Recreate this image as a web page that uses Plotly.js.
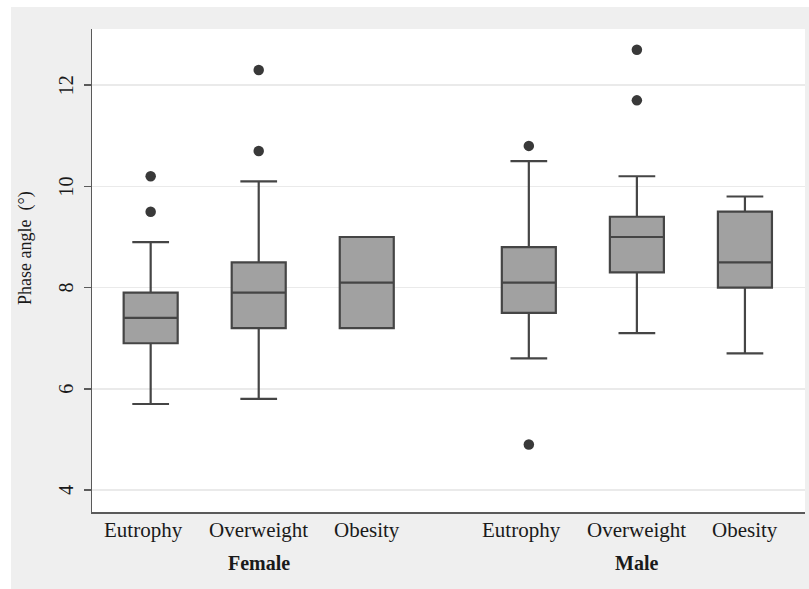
<!DOCTYPE html>
<html>
<head>
<meta charset="utf-8">
<script src="https://cdn.plot.ly/plotly-3.0.1.min.js"></script>
<style>
  html, body { margin:0; padding:0; background:#ffffff; }
  #bg { position:absolute; left:11px; top:7px; width:798px; height:582px; background:#efefef; }
  #chart { position:absolute; left:0; top:0; width:809px; height:589px; }
</style>
</head>
<body>
<div id="bg"></div>
<div id="chart"></div>
<script>
// ---- data ----
const groups = ["Female", "Male"];
const categories = ["Eutrophy", "Overweight", "Obesity"];
const groupOf = [0, 0, 0, 1, 1, 1];
const categoryOf = [0, 1, 2, 0, 1, 2];

const q1 = [6.9, 7.2, 7.2, 7.5, 8.3, 8.0];
const median = [7.4, 7.9, 8.1, 8.1, 9.0, 8.5];
const q3 = [7.9, 8.5, 9.0, 8.8, 9.4, 9.5];
const lowerWhisker = [5.7, 5.8, 7.2, 6.6, 7.1, 6.7];
const upperWhisker = [8.9, 10.1, 9.0, 10.5, 10.2, 9.8];

const outlierBox = [0, 0, 1, 1, 3, 3, 4, 4];
const outlierValue = [10.2, 9.5, 12.3, 10.7, 10.8, 4.9, 12.7, 11.7];

const yTicks = [4, 6, 8, 10, 12];

// ---- positions (group gap of half a slot) ----
const pos = groupOf.map((g, i) => i + 1 + g * 0.5);
const groupCenter = groups.map((g, gi) => {
  const p = pos.filter((_, i) => groupOf[i] === gi);
  return (p[0] + p[p.length - 1]) / 2;
});

const lineCol = "#454545";
const boxTrace = {
  type: "box",
  x: pos,
  q1: q1, median: median, q3: q3,
  lowerfence: lowerWhisker, upperfence: upperWhisker,
  boxpoints: false,
  width: 0.5,
  whiskerwidth: 0.68,
  fillcolor: "#a1a1a1",
  line: { color: lineCol, width: 2.2 },
  hoverinfo: "skip",
  showlegend: false
};
const outTrace = {
  type: "scatter", mode: "markers",
  x: outlierBox.map(i => pos[i]),
  y: outlierValue,
  marker: { color: "#393939", size: 10.5 },
  hoverinfo: "skip",
  showlegend: false
};

const fontFam = "Liberation Serif";
const annotations = [];
pos.forEach((p, i) => {
  annotations.push({
    xref: "x", yref: "paper", x: p, y: 0,
    xanchor: "center", yanchor: "middle",
    xshift: categoryOf[i] === 0 ? -7 : 0,
    yshift: -17.5,
    text: categories[categoryOf[i]], showarrow: false,
    font: { family: fontFam, size: 21, color: "#1a1a1a" }
  });
});
groups.forEach((g, gi) => {
  annotations.push({
    xref: "x", yref: "paper", x: groupCenter[gi], y: 0,
    xanchor: "center", yanchor: "middle",
    yshift: -50.5,
    text: "<b>" + g + "</b>", showarrow: false,
    font: { family: fontFam, size: 20, color: "#1a1a1a" }
  });
});
yTicks.forEach(v => {
  annotations.push({
    xref: "paper", yref: "y", x: 0, y: v,
    xanchor: "center", yanchor: "middle",
    xshift: -26, textangle: -90,
    text: String(v), showarrow: false,
    font: { family: fontFam, size: 20, color: "#1a1a1a" }
  });
});
annotations.push({
  xref: "paper", yref: "paper", x: 0, y: 0.5,
  xanchor: "center", yanchor: "middle",
  xshift: -67, yshift: 22.5, textangle: -90,
  text: "Phase angle\u00a0\u00a0(°)", showarrow: false,
  font: { family: fontFam, size: 18, color: "#1a1a1a" }
});

const layout = {
  width: 809, height: 589,
  margin: { l: 92, r: 3.5, t: 29, b: 77 },
  paper_bgcolor: "rgba(0,0,0,0)",
  plot_bgcolor: "#ffffff",
  font: { family: fontFam, color: "#1a1a1a" },
  xaxis: {
    range: [0.457, 7.056],
    showgrid: false, zeroline: false,
    showticklabels: false, ticks: "",
    showline: true, linecolor: "#5a5a5a", linewidth: 1.5,
    fixedrange: true
  },
  yaxis: {
    range: [3.566, 13.11],
    tickvals: yTicks,
    showticklabels: false,
    ticks: "outside", ticklen: 7, tickwidth: 1.5, tickcolor: "#5a5a5a",
    showgrid: true, gridcolor: "#eaeaea", gridwidth: 1.5,
    zeroline: false,
    showline: true, linecolor: "#5a5a5a", linewidth: 1.5,
    fixedrange: true
  },
  annotations: annotations
};

Plotly.newPlot("chart", [boxTrace, outTrace], layout, { displayModeBar: false, staticPlot: true });
</script>
</body>
</html>
